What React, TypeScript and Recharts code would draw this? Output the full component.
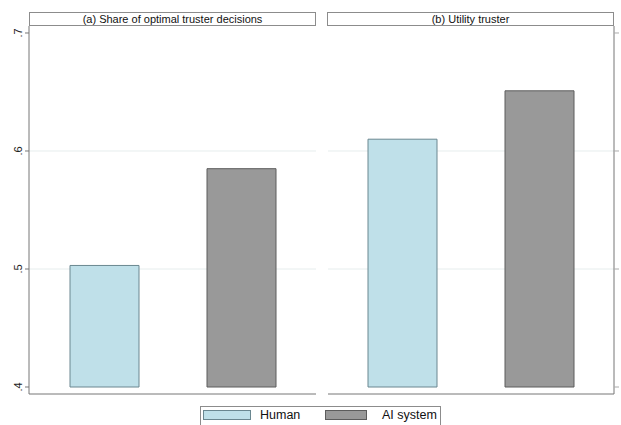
import React from 'react';
import { BarChart, Bar, XAxis, YAxis, CartesianGrid } from 'recharts';

const panelTitles = ['(a) Share of optimal truster decisions', '(b) Utility truster'];
const seriesNames = ['Human', 'AI system'];
const humanValues = [0.503, 0.61];
const aiValues = [0.585, 0.651];
const yTicks = [0.4, 0.5, 0.6, 0.7];
const gridValues = [0.5, 0.6];
const baseValue = 0.4;
const yDomain: [number, number] = [0.39407, 0.70593];

const HUMAN_FILL = '#bfe0e9';
const HUMAN_STROKE = '#6a8790';
const AI_FILL = '#999999';
const AI_STROKE = '#5c5c5c';
const AXIS = '#777777';
const GRID = '#e6eded';
const FONT = '"Liberation Sans", Arial, Helvetica, sans-serif';

const fmt = (v: number) => String(v).replace(/^0/, '');

const panelData = (i: number) => [
  { g: 'x', human: [baseValue, humanValues[i]], ai: [baseValue, aiValues[i]] },
];

const RotTick = (props: any) => {
  const { x, y, payload } = props;
  const bx = x - 1;
  return (
    <text
      x={bx}
      y={y}
      transform={`rotate(-90, ${bx}, ${y})`}
      textAnchor="middle"
      fontSize={11}
      fill="#222"
      fontFamily={FONT}
    >
      {fmt(payload.value)}
    </text>
  );
};

const gridGen = (props: any) => {
  const { offset } = props;
  const [lo, hi] = yDomain;
  return gridValues.map((v) => offset.top + ((hi - v) / (hi - lo)) * offset.height);
};

const Header = ({ left, text }: { left: number; text: string }) => (
  <div
    style={{
      position: 'absolute',
      left,
      top: 12,
      width: 287,
      height: 14,
      boxSizing: 'border-box',
      border: '1px solid #8c8c8c',
      background: '#fff',
      fontSize: 11,
      lineHeight: '12px',
      textAlign: 'center',
      color: '#111',
      fontFamily: FONT,
    }}
  >
    {text}
  </div>
);

export default function App() {
  const legendItems = [
    { name: seriesNames[0], fill: HUMAN_FILL, stroke: HUMAN_STROKE, sw: 203, tx: 260, sww: 48 },
    { name: seriesNames[1], fill: AI_FILL, stroke: AI_STROKE, sw: 325, tx: 382, sww: 42 },
  ];
  return (
    <div
      style={{
        position: 'absolute',
        left: 0,
        top: 0,
        width: 621,
        height: 425,
        background: '#fff',
        overflow: 'hidden',
        fontFamily: FONT,
      }}
    >
      <div style={{ position: 'absolute', left: 0, top: 0 }}>
        <BarChart
          width={317}
          height={395}
          data={panelData(0)}
          margin={{ top: 26, right: 1, bottom: 0, left: 0 }}
          barSize={69}
          barGap={68}
        >
          <CartesianGrid vertical={false} stroke={GRID} horizontalCoordinatesGenerator={gridGen} />
          <XAxis dataKey="g" height={1} tick={false} tickLine={false} axisLine={{ stroke: AXIS }} />
          <YAxis
            domain={yDomain}
            ticks={yTicks}
            interval={0}
            allowDataOverflow
            width={29}
            tickSize={4}
            tickMargin={2}
            axisLine={{ stroke: AXIS }}
            tickLine={{ stroke: AXIS }}
            tick={<RotTick />}
          />
          <Bar dataKey="human" name={seriesNames[0]} fill={HUMAN_FILL} stroke={HUMAN_STROKE} isAnimationActive={false} />
          <Bar dataKey="ai" name={seriesNames[1]} fill={AI_FILL} stroke={AI_STROKE} isAnimationActive={false} />
        </BarChart>
      </div>
      <div style={{ position: 'absolute', left: 328, top: 0 }}>
        <BarChart
          width={293}
          height={395}
          data={panelData(1)}
          margin={{ top: 26, right: 0, bottom: 0, left: 0 }}
          barSize={69}
          barGap={68}
        >
          <CartesianGrid vertical={false} stroke={GRID} horizontalCoordinatesGenerator={gridGen} />
          <XAxis dataKey="g" height={1} tick={false} tickLine={false} axisLine={{ stroke: AXIS }} />
          <YAxis
            orientation="right"
            domain={yDomain}
            ticks={yTicks}
            interval={0}
            allowDataOverflow
            width={7}
            tickSize={5}
            axisLine={{ stroke: AXIS }}
            tickLine={{ stroke: '#aaaaaa' }}
            tickFormatter={() => ''}
          />
          <Bar dataKey="human" name={seriesNames[0]} fill={HUMAN_FILL} stroke={HUMAN_STROKE} isAnimationActive={false} />
          <Bar dataKey="ai" name={seriesNames[1]} fill={AI_FILL} stroke={AI_STROKE} isAnimationActive={false} />
        </BarChart>
      </div>
      <Header left={29} text={panelTitles[0]} />
      <Header left={327} text={panelTitles[1]} />
      <div
        style={{
          position: 'absolute',
          left: 200,
          top: 406,
          width: 241,
          height: 30,
          boxSizing: 'border-box',
          border: '1px solid #8c8c8c',
          background: '#fff',
        }}
      />
      {legendItems.map((it) => (
        <React.Fragment key={it.name}>
          <div
            style={{
              position: 'absolute',
              left: it.sw,
              top: 410,
              width: it.sww,
              height: 10,
              boxSizing: 'border-box',
              background: it.fill,
              border: `1px solid ${it.stroke}`,
            }}
          />
          <div
            style={{
              position: 'absolute',
              left: it.tx,
              top: 408,
              fontSize: 12.5,
              lineHeight: '15px',
              color: '#111',
              fontFamily: FONT,
              whiteSpace: 'nowrap',
            }}
          >
            {it.name}
          </div>
        </React.Fragment>
      ))}
    </div>
  );
}
